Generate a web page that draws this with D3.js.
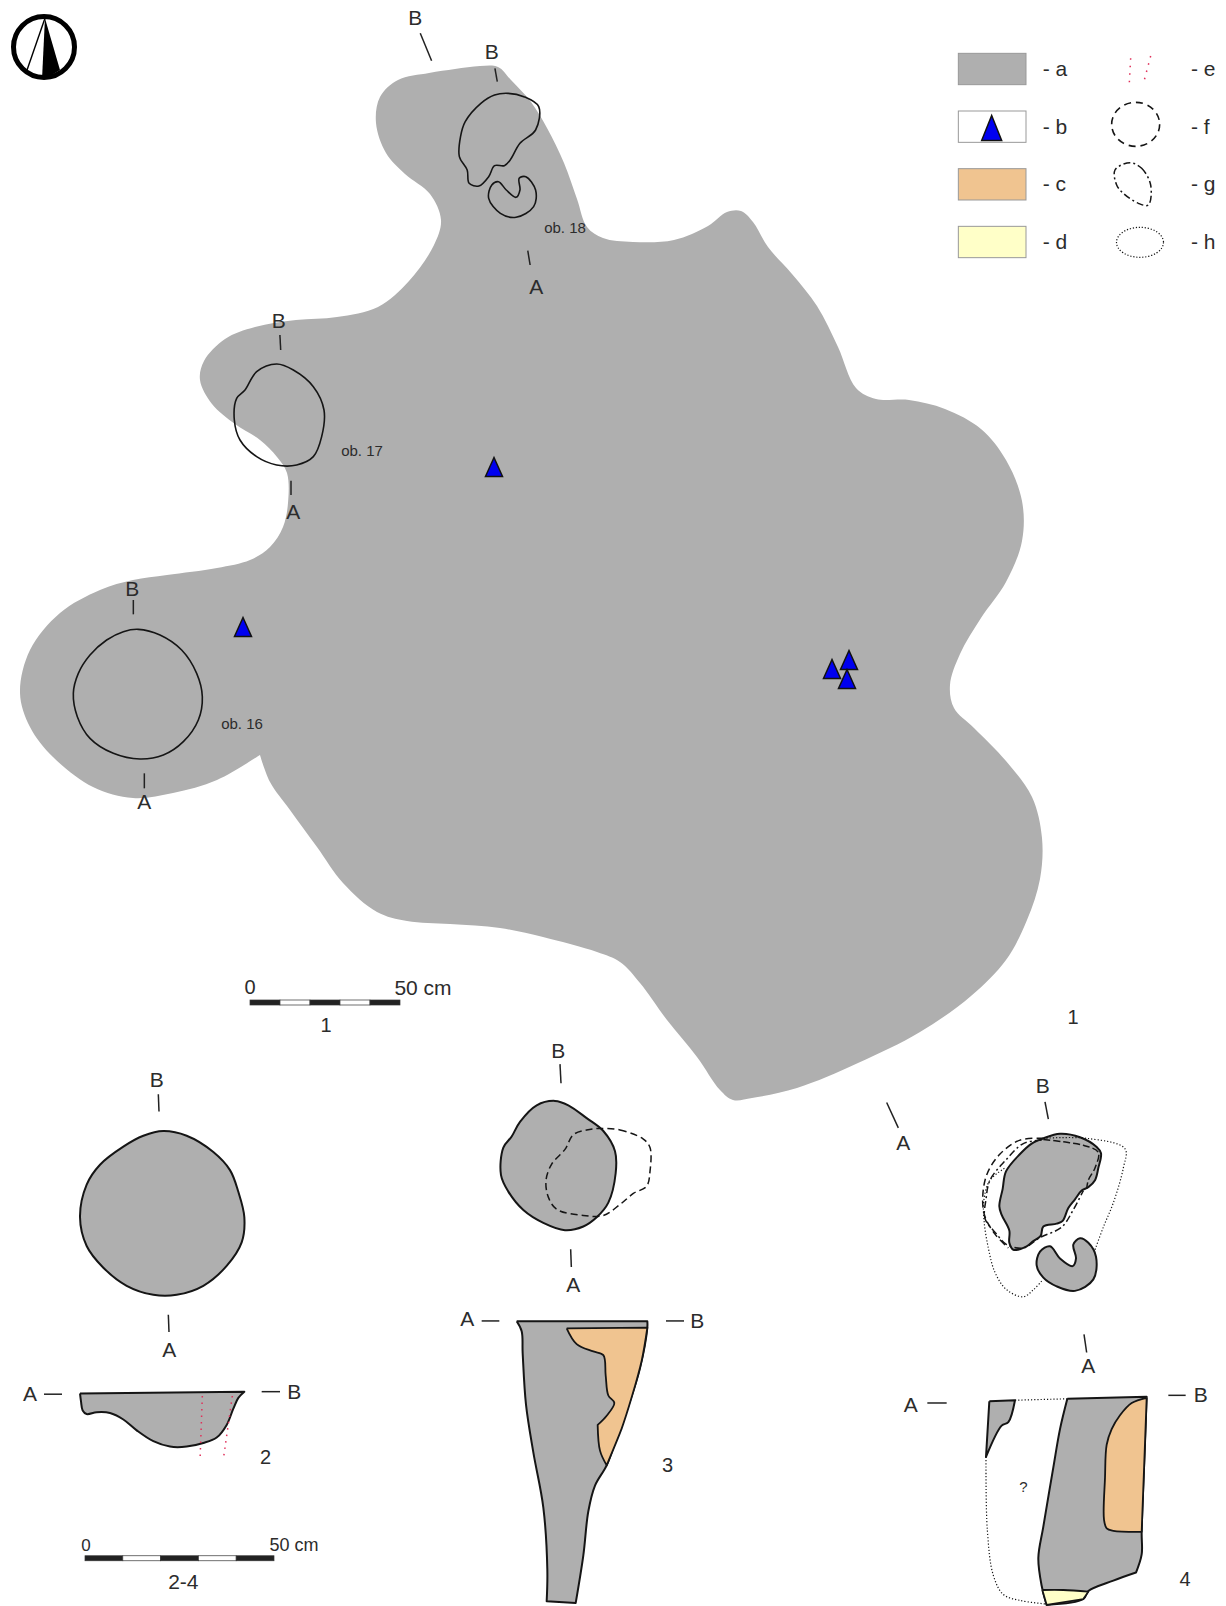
<!DOCTYPE html>
<html>
<head>
<meta charset="utf-8">
<style>
body { margin: 0; background: #fff; }
text { font-family: "Liberation Sans", Arial, sans-serif; fill: #2c2c2c; text-anchor: middle; dominant-baseline: central; }
</style>
</head>
<body>
<svg id="chart"></svg>
<script src="https://cdn.jsdelivr.net/npm/d3@7"></script>
<script>
// outlines, each one in the units of its own panel (see panels below)
// a point written twice is a sharp corner
const site = [[429,73],[455,69],[480,66],[498,67],[511,80],[531,102],[547,128],[564,163],[577,199],[587,227],[603,238],[633,242],[674,240],[708,226],[727,212],[741,211],[753,222],[768,247],[792,274],[817,306],[838,347],[856,388],[876,399],[909,400],[945,409],[981,429],[1006,460],[1022,501],[1022,541],[1006,582],[981,618],[960,654],[950,685],[954,708],[974,728],[1006,761],[1032,797],[1042,838],[1040,879],[1027,920],[1006,960],[971,996],[920,1032],[858,1063],[797,1088],[752,1098],[733,1100],[720,1090],[697,1057],[667,1020],[640,983],[620,962],[597,952],[543,937],[500,928],[450,924],[407,921],[377,912],[343,883],[317,847],[290,810],[270,782],[260,755],[260,755],[217,780],[173,793],[133,798],[93,787],[53,757],[30,727],[20,693],[30,650],[60,613],[100,590],[133,580],[167,575],[217,568],[250,560],[270,547],[283,527],[288,503],[287,473],[277,457],[260,440],[235,424],[212,404],[200,380],[204,361],[225,339],[255,327],[296,320],[337,317],[378,307],[409,281],[434,245],[441,220],[430,194],[405,174],[386,153],[376,123],[380,97],[398,80]];
const ob16 = [[415,898],[480,915],[545,960],[590,1030],[607,1100],[595,1170],[550,1235],[490,1275],[420,1287],[340,1270],[270,1225],[232,1160],[220,1090],[235,1030],[270,975],[320,930],[370,905]];
const ob17 = [[830,102],[880,120],[940,170],[972,240],[965,320],[940,380],[890,405],[830,405],[770,380],[720,330],[703,270],[710,205],[735,180],[770,125]];
const ob18 = [[1300,280],[1340,290],[1378,320],[1370,390],[1330,430],[1305,480],[1290,497],[1265,497],[1250,530],[1225,558],[1200,550],[1195,510],[1175,470],[1178,410],[1190,365],[1230,310],[1265,285]];
const ob18b = [[1275,545],[1295,570],[1320,592],[1330,570],[1328,535],[1345,530],[1370,570],[1365,620],[1320,652],[1280,640],[1250,595],[1258,555]];
const finds = [[494,468],[243,628],[832,670],[849,661],[847,680]];

const plan2 = [[490,252],[560,265],[640,310],[690,360],[715,420],[733,490],[725,560],[680,625],[610,680],[530,705],[460,705],[380,680],[310,630],[260,570],[240,490],[260,400],[300,345],[370,295],[430,265]];
const sect2 = [[240,978],[240,978],[733,973],[733,973],[715,990],[700,1020],[680,1065],[650,1100],[610,1115],[560,1125],[510,1125],[460,1110],[410,1080],[370,1050],[330,1032],[290,1030],[260,1035],[248,1025],[243,1000]];
const sect2Red = [[[607,985],[600,1165]],[[697,985],[670,1160]]];

const plan3 = [[345,193],[385,205],[440,240],[490,275],[525,330],[527,390],[505,470],[470,510],[430,535],[375,545],[310,525],[250,490],[205,440],[183,395],[190,320],[215,290],[240,250],[290,205]];
const plan3Dash = [[480,268],[540,272],[610,297],[630,320],[630,385],[620,425],[580,445],[540,475],[490,505],[430,505],[350,488],[325,455],[318,410],[335,365],[375,325],[400,285],[440,272]];
const sect3 = [[230,793],[230,793],[622,793],[622,793],[622,810],[600,920],[570,1010],[530,1110],[500,1185],[465,1240],[445,1310],[430,1430],[407,1560],[407,1560],[320,1555],[320,1555],[322,1470],[310,1300],[280,1150],[258,1020],[248,880],[245,820]];
const sect3Orange = [[380,812],[380,812],[622,810],[622,810],[605,900],[575,1000],[545,1085],[500,1185],[500,1185],[480,1145],[473,1075],[473,1075],[500,1050],[523,1015],[505,995],[497,940],[490,885],[460,875],[410,855]];

const plan4 = [[490,225],[540,212],[600,222],[650,250],[663,268],[655,310],[645,345],[625,365],[605,375],[585,400],[565,425],[548,462],[530,470],[490,478],[482,505],[460,520],[440,535],[400,545],[388,525],[388,490],[365,445],[358,420],[368,370],[378,320],[420,270],[455,240]];
const plan4b = [[510,535],[540,570],[578,592],[588,570],[580,530],[600,512],[625,525],[648,565],[640,630],[585,663],[530,650],[490,625],[470,590],[480,550]];
const plan4Dot = [[[490,225],[620,225],[735,255],[730,310],[700,410],[670,480],[645,545]],[[485,635],[460,660],[430,680],[380,660],[345,610],[325,540],[312,460],[312,400],[330,345],[375,310]]];
const plan4Dash = [[490,225],[420,230],[360,270],[320,330],[308,400],[315,450],[345,500],[385,540]];
const plan4DashDot = [[485,230],[430,240],[375,290],[330,345],[318,400],[315,455],[350,500],[380,530],[430,540],[480,510],[545,480],[580,430],[610,375]];
const plan4Inner = [[490,228],[550,235],[610,245],[655,265],[645,310],[625,345],[620,370]];
const sect4Frag = [[328,980],[328,980],[405,977],[405,977],[385,1040],[365,1050],[318,1140],[318,1140]];
const sect4 = [[562,973],[562,973],[800,967],[800,967],[795,1100],[785,1355],[785,1420],[768,1472],[768,1472],[700,1495],[625,1525],[610,1548],[500,1565],[500,1565],[485,1510],[475,1430],[490,1340],[520,1170],[540,1060]];
const sect4Orange = [[800,970],[800,970],[755,985],[720,1020],[695,1060],[680,1105],[675,1200],[672,1320],[680,1345],[700,1352],[785,1355],[785,1355],[795,1100]];
const sect4Yellow = [[487,1522],[487,1522],[550,1522],[625,1527],[625,1527],[610,1548],[610,1548],[500,1565],[500,1565]];
const sect4Dot = [[[318,1140],[322,1350],[340,1480],[370,1535],[420,1552],[495,1562]],[[405,977],[562,973]]];

const legendLeft = ["- a", "- b", "- c", "- d"];
const legendRight = ["- e", "- f", "- g", "- h"];
const legendRows = [117, 290, 463, 636];
const legendFills = ["#afafaf", "#ffffff", "#f0c490", "#ffffc8"];
const legendG = [[690,398],[725,415],[752,465],[745,525],[715,520],[670,490],[650,465],[645,420]];
const legendE = [[[692,85],[688,158]],[[752,78],[733,150]]];

// tick marks beside the section letters: letter, letter position, tick from, tick to
const marksTop = [["B",1062,52,1075,100,1104,182],["B",1258,155,1266,205,1272,245],["A",1372,858,1350,752,1356,795],["B",713,962,716,1005,718,1050]];
const marksLow = [["A",880,545,873,452,873,495],["B",397,775,400,810,400,853],["A",433,1415,433,1330,433,1375]];
const marks2 = [["B",470,110,475,150,477,198],["A",508,855,505,760,507,808],["A",90,978,132,980,186,980],["B",883,973,785,973,840,973]];
const marks3 = [["B",355,55,360,93,363,145],["A",400,692,392,597,394,645],["A",82,785,125,792,178,792],["B",772,792,678,792,732,792]];
const marks4 = [["B",488,73,495,120,505,170],["A",70,238,20,122,55,195],["A",625,878,612,788,620,840],["A",92,988,142,985,200,985],["B",962,960,865,963,917,963]];

const width = 1226, height = 1606;
const svg = d3.select("#chart").attr("width", width).attr("height", height);

// every crop of the picture gets its own pair of scales
function panel(x0, y0, w, h, wu, hu) {
    return {
        x: d3.scaleLinear().domain([0, wu]).range([x0, x0 + w]),
        y: d3.scaleLinear().domain([0, hu]).range([y0, y0 + h])
    };
}
const pSite = panel(0, 0, 1226, 1606, 1226, 1606);
const pTop = panel(0, 0, 613, 400, 1568, 1200);
const pLow = panel(0, 330, 420, 500, 1260, 1500);
const p2 = panel(0, 1040, 400, 566, 1200, 1566);
const p3 = panel(440, 1030, 300, 576, 900, 1568);
const p4 = panel(880, 1060, 346, 546, 1038, 1568);
const pLegend = panel(900, 30, 326, 250, 978, 750);

function shape(p, pts, opts) {
    const o = opts || {};
    const line = d3.line().x(d => p.x(d[0])).y(d => p.y(d[1])).curve(o.curve || d3.curveCatmullRomClosed.alpha(0.5));
    return svg.append("path")
        .attr("d", line(pts))
        .attr("fill", o.fill || "none")
        .attr("stroke", o.stroke || "none")
        .attr("stroke-width", o.sw || 1.6)
        .attr("stroke-dasharray", o.dash || null)
        .attr("stroke-linejoin", "round");
}
const open = d3.curveCatmullRom.alpha(0.5);
const gray = "#afafaf", ink = "#151515", orange = "#f0c490", yellow = "#ffffc8";

function marks(p, list, size) {
    list.forEach(m => {
        svg.append("text").attr("x", p.x(m[1])).attr("y", p.y(m[2])).attr("font-size", size || 21).text(m[0]);
        svg.append("line").attr("x1", p.x(m[3])).attr("y1", p.y(m[4])).attr("x2", p.x(m[5])).attr("y2", p.y(m[6]))
            .attr("stroke", "#222").attr("stroke-width", 1.5);
    });
}
function label(x, y, s, size) {
    svg.append("text").attr("x", x).attr("y", y).attr("font-size", size).text(s);
}
function triangle(cx, cy, w, h) {
    svg.append("path")
        .attr("d", d3.line()([[cx, cy - h * 0.55], [cx + w / 2, cy + h * 0.45], [cx - w / 2, cy + h * 0.45]]) + "Z")
        .attr("fill", "#0000f0").attr("stroke", "#111").attr("stroke-width", 1.5).attr("stroke-linejoin", "miter");
}
function scaleBar(x0, x1, y, h) {
    const sx = d3.scaleLinear().domain([0, 5]).range([x0, x1]);
    d3.range(5).forEach(i => {
        svg.append("rect").attr("x", sx(i)).attr("y", y).attr("width", sx(i + 1) - sx(i)).attr("height", h)
            .attr("fill", i % 2 ? "#fff" : "#222").attr("stroke", "#333").attr("stroke-width", 0.7);
    });
}

// north arrow
const north = d3.scaleLinear().domain([-1, 1]).range([12, 76]);
const northY = d3.scaleLinear().domain([-1, 1]).range([15, 79]);
svg.append("circle").attr("cx", north(0)).attr("cy", northY(0)).attr("r", 30.5).attr("fill", "#fff").attr("stroke", "#000").attr("stroke-width", 5);
svg.append("path").attr("d", d3.line()([[north(0.03), northY(-0.9)], [north(0.5), northY(0.72)], [north(0.1), northY(0.96)], [north(-0.06), northY(0.96)]]) + "Z").attr("fill", "#000");
svg.append("line").attr("x1", north(0.03)).attr("y1", northY(-0.9)).attr("x2", north(-0.53)).attr("y2", northY(0.72)).attr("stroke", "#000").attr("stroke-width", 1.4);

// main plan
shape(pSite, site, {fill: gray});
shape(pLow, ob16, {stroke: ink, sw: 1.6});
shape(pLow, ob17, {stroke: ink, sw: 1.6});
shape(pTop, ob18, {stroke: ink, sw: 1.6});
shape(pTop, ob18b, {stroke: ink, sw: 1.6});
finds.forEach(d => triangle(pSite.x(d[0]), pSite.y(d[1]), 17, 19));
marks(pTop, marksTop);
marks(pLow, marksLow);
label(565, 227, "ob. 18", 15);
label(362, 450, "ob. 17", 15);
label(242, 723, "ob. 16", 15);

scaleBar(250, 400, 1000, 5);
label(250, 987, "0", 20);
label(423, 987, "50 cm", 21);
label(326, 1025, "1", 20);
label(1073, 1017, "1", 20);

// object 2
shape(p2, plan2, {fill: gray, stroke: ink, sw: 2});
shape(p2, sect2, {fill: gray, stroke: ink, sw: 2});
sect2Red.forEach(d => shape(p2, d, {stroke: "#e0305a", sw: 1.5, dash: "1.5 5", curve: d3.curveLinear}));
marks(p2, marks2);
label(p2.x(797), p2.y(1155), "2", 20);
scaleBar(p2.x(255), p2.x(822), p2.y(1427), 5);
label(p2.x(258), p2.y(1398), "0", 17);
label(p2.x(882), p2.y(1398), "50 cm", 18);
label(p2.x(550), p2.y(1498), "2-4", 21);

// object 3
shape(p3, plan3, {fill: gray, stroke: ink, sw: 2});
shape(p3, plan3Dash, {stroke: ink, sw: 1.5, dash: "7 4"});
shape(p3, sect3, {fill: gray, stroke: ink, sw: 2});
shape(p3, sect3Orange, {fill: orange, stroke: ink, sw: 1.8});
marks(p3, marks3);
label(p3.x(683), p3.y(1183), "3", 20);

// object 4
shape(p4, plan4, {fill: gray, stroke: ink, sw: 2});
shape(p4, plan4b, {fill: gray, stroke: ink, sw: 2});
plan4Dot.forEach(d => shape(p4, d, {stroke: ink, sw: 1.2, dash: "1.2 2", curve: open}));
shape(p4, plan4Dash, {stroke: ink, sw: 1.5, dash: "7 4", curve: open});
shape(p4, plan4DashDot, {stroke: ink, sw: 1.5, dash: "7 3 2 3", curve: open});
shape(p4, plan4Inner, {stroke: ink, sw: 1.5, dash: "7 3", curve: open});
sect4Dot.forEach(d => shape(p4, d, {stroke: ink, sw: 1.2, dash: "1.2 2", curve: open}));
shape(p4, sect4Frag, {fill: gray, stroke: ink, sw: 2});
shape(p4, sect4, {fill: gray, stroke: ink, sw: 2});
shape(p4, sect4Orange, {fill: orange, stroke: ink, sw: 1.8});
shape(p4, sect4Yellow, {fill: yellow, stroke: ink, sw: 1.8});
marks(p4, marks4);
label(p4.x(430), p4.y(1225), "?", 15);
label(p4.x(915), p4.y(1490), "4", 20);

// legend
legendRows.forEach((r, i) => {
    svg.append("rect")
        .attr("x", pLegend.x(175)).attr("y", pLegend.y(r - 47))
        .attr("width", pLegend.x(378) - pLegend.x(175)).attr("height", pLegend.y(r + 47) - pLegend.y(r - 47))
        .attr("fill", legendFills[i]).attr("stroke", "#999").attr("stroke-width", 1);
    svg.append("text").attr("x", pLegend.x(428)).attr("y", pLegend.y(r - 2)).attr("font-size", 21)
        .style("text-anchor", "start").text(legendLeft[i]);
    svg.append("text").attr("x", pLegend.x(873)).attr("y", pLegend.y(r - 2)).attr("font-size", 21)
        .style("text-anchor", "start").text(legendRight[i]);
});
triangle(pLegend.x(275), pLegend.y(298), 20, 25);
legendE.forEach(d => shape(pLegend, d, {stroke: "#e0305a", sw: 1.5, dash: "1.5 6", curve: d3.curveLinear}));
svg.append("ellipse").attr("cx", pLegend.x(707)).attr("cy", pLegend.y(283)).attr("rx", 24).attr("ry", 22)
    .attr("fill", "none").attr("stroke", ink).attr("stroke-width", 1.6).attr("stroke-dasharray", "7 5");
shape(pLegend, legendG, {stroke: ink, sw: 1.5, dash: "7 3 2 3"});
svg.append("ellipse").attr("cx", pLegend.x(720)).attr("cy", pLegend.y(637)).attr("rx", 23.5).attr("ry", 15)
    .attr("fill", "none").attr("stroke", ink).attr("stroke-width", 1.2).attr("stroke-dasharray", "1.2 1.8");
</script>
</body>
</html>
